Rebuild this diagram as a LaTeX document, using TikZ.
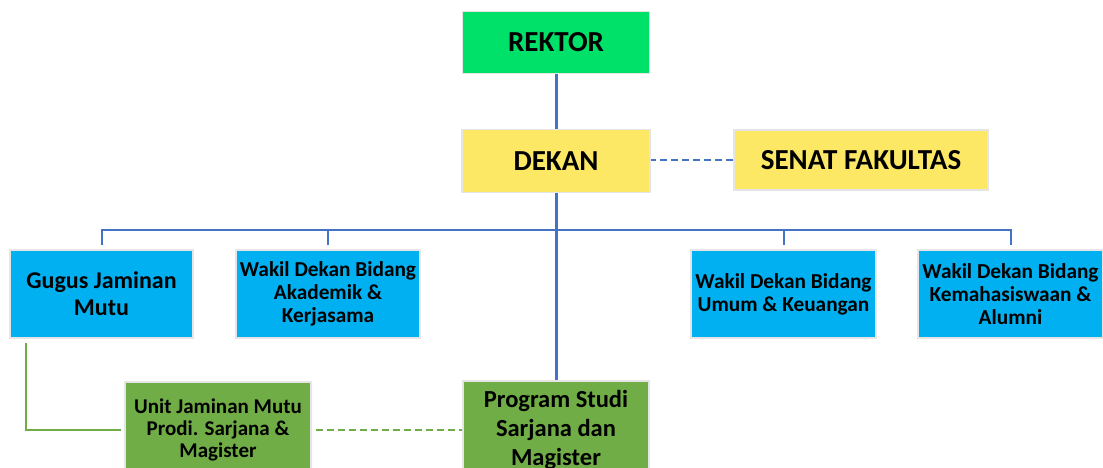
\documentclass[tikz,border=0pt]{standalone}
\usepackage{fontspec}
\setmainfont{Carlito}
\definecolor{topgreen}{RGB}{0,225,106}
\definecolor{deanyellow}{RGB}{252,232,100}
\definecolor{unitcyan}{RGB}{0,176,240}
\definecolor{unitgreen}{RGB}{112,173,71}
\definecolor{linkblue}{RGB}{68,114,196}
\tikzset{
	box/.style={draw=gray!20, line width=1.2pt, inner sep=0pt, align=center, font=\bfseries},
	bigbox/.style={box, minimum width=187pt, minimum height=62pt, font=\fontsize{29}{34}\selectfont\bfseries},
	wdbox/.style={box, fill=unitcyan, minimum width=184pt, minimum height=88pt, font=\fontsize{21.3}{23}\selectfont\bfseries},
	gbox/.style={box, fill=unitgreen, minimum width=186pt, minimum height=96pt},
	trunk/.style={linkblue, line width=3pt},
	branch/.style={linkblue, line width=2pt, shorten >=4pt},
	longdash/.style={line width=2pt, dash pattern=on 7pt off 4pt},
}
\begin{document}
\begin{tikzpicture}[x=1pt,y=-1pt]
		\useasboundingbox (0,0) rectangle (1103,468);
		\clip (0,0) rectangle (1103,468);
		% top
		\node[bigbox, fill=topgreen] (rektor) at (556,42.5) {REKTOR};
		\node[bigbox, fill=deanyellow, minimum width=188pt, minimum height=63pt] (dekan) at (556,161) {DEKAN};
		\node[bigbox, fill=deanyellow, minimum width=254pt, minimum height=60pt] (senat) at (861,160) {SENAT FAKULTAS};
		% second row
		\node[wdbox, minimum width=183pt, font=\fontsize{24}{27}\selectfont\bfseries] (gugus) at (101.5,294) {Gugus Jaminan\\Mutu};
		\node[wdbox] (wakilak) at (328,294) {Wakil Dekan Bidang\\Akademik \&\\Kerjasama};
		\node[wdbox, minimum width=185pt] (wakilum) at (783.5,294) {Wakil Dekan Bidang\\Umum \& Keuangan};
		\node[wdbox, minimum width=185pt] (wakilkm) at (1010.5,294) {Wakil Dekan Bidang\\Kemahasiswaan \&\\Alumni};
		% bottom row
		\node[gbox, font=\fontsize{21}{22}\selectfont\bfseries] (ujm) at (218,430) {Unit Jaminan Mutu\\Prodi. Sarjana \&\\Magister};
		\node[gbox, minimum height=98pt, font=\fontsize{24.5}{29}\selectfont\bfseries] (prodi) at (556,430) {Program Studi\\Sarjana dan\\Magister};
		% connectors
		\coordinate (bus) at (556,230);
		\draw[trunk] (rektor.south) -- (dekan.north);
		\draw[trunk] (dekan.south) -- (prodi.north);
		\draw[linkblue, longdash] (senat.west) -- (senat.west -| dekan.east);
		\draw[branch] (bus) -| (gugus.north);
		\draw[branch] (bus) -| (wakilak.north);
		\draw[branch] (bus) -| (wakilum.north);
		\draw[branch] (bus) -| (wakilkm.north);
		\draw[unitgreen, line width=2pt, shorten <=4pt, shorten >=3pt] ([xshift=17pt]gugus.south west) |- (ujm.west);
		\draw[unitgreen, longdash, shorten <=4pt] (ujm.east) -- (prodi.west);
\end{tikzpicture}
\end{document}
